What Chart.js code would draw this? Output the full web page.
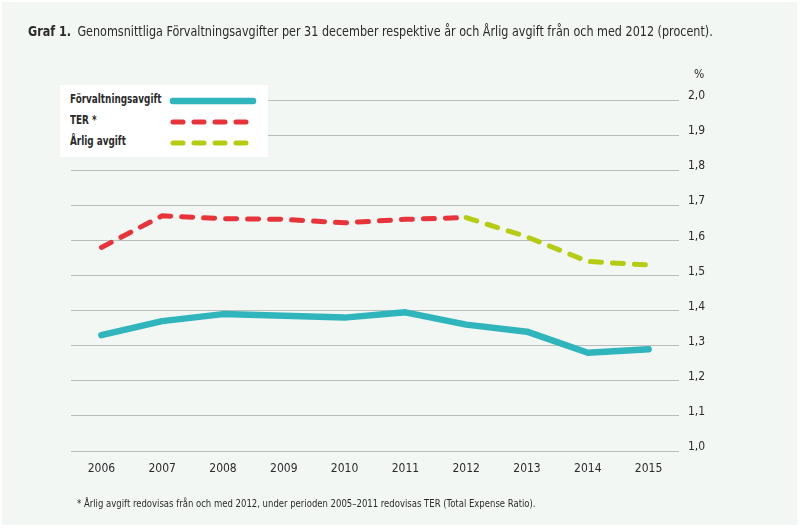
<!DOCTYPE html>
<html>
<head>
<meta charset="utf-8">
<script src="https://cdn.jsdelivr.net/npm/chart.js@4.4.1/dist/chart.umd.min.js"></script>
<style>
  html, body { margin: 0; padding: 0; background: #ffffff; }
  #wrap { position: relative; width: 800px; height: 529px; overflow: hidden; }
  #bg { position: absolute; left: 2px; top: 2px; width: 795px; height: 523px; background: #f3f7f4; }
  #chart { position: absolute; left: 0; top: 0; }
  .txt { position: absolute; font-family: "DejaVu Sans", sans-serif; font-stretch: condensed; color: #2b2b2b; white-space: nowrap; transform-origin: 0 50%; }
  #title { left: 28px; top: 23px; font-size: 13.5px; transform: scaleX(0.922); }
  #title b { margin-right: 3px; }
  #pct { left: 694px; top: 67px; font-size: 12px; }
  #foot { left: 77px; top: 497px; font-size: 10.5px; transform: scaleX(0.9); }
  #legend { position: absolute; left: 60px; top: 85px; width: 208px; height: 72px; background: #ffffff; }
  .row { position: absolute; left: 10px; height: 20px; width: 196px; }
  .row span { position: absolute; left: 0; top: 1px; font-family: "DejaVu Sans", sans-serif; font-stretch: condensed; font-weight: bold; font-size: 12px; color: #2b2b2b; white-space: nowrap; transform: scaleX(0.82); transform-origin: 0 50%; }
  .row svg { position: absolute; left: 99px; top: 5px; }
</style>
</head>
<body>
<div id="wrap">
  <div id="bg"></div>
  <canvas id="chart" width="800" height="529"></canvas>
  <div class="txt" id="title"><b>Graf 1.</b> Genomsnittliga Förvaltningsavgifter per 31 december respektive år och Årlig avgift från och med 2012 (procent).</div>
  <div class="txt" id="pct">%</div>
  <div class="txt" id="foot">* Årlig avgift redovisas från och med 2012, under perioden 2005–2011 redovisas TER (Total Expense Ratio).</div>
  <div id="legend">
    <div class="row" style="top:6px"><span>Förvaltningsavgift</span>
      <svg width="90" height="10"><line x1="4" y1="5" x2="84" y2="5" stroke="#2fb5bb" stroke-width="6.5" stroke-linecap="round"/></svg></div>
    <div class="row" style="top:27px"><span>TER *</span>
      <svg width="90" height="10"><line x1="4" y1="5" x2="84" y2="5" stroke="#e8333a" stroke-width="5" stroke-linecap="round" stroke-dasharray="10 11"/></svg></div>
    <div class="row" style="top:48px"><span>Årlig avgift</span>
      <svg width="90" height="10"><line x1="4" y1="5" x2="84" y2="5" stroke="#b5cc12" stroke-width="5" stroke-linecap="round" stroke-dasharray="10 11"/></svg></div>
  </div>
</div>
<script>
// data
var years = ["2006", "2007", "2008", "2009", "2010", "2011", "2012", "2013", "2014", "2015"];
var forvaltning = [1.33, 1.37, 1.39, 1.385, 1.38, 1.395, 1.36, 1.34, 1.28, 1.29];
var ter = [1.58, 1.67, 1.662, 1.66, 1.65, 1.66, 1.665, null, null, null];
var arligAvgift = [null, null, null, null, null, null, 1.665, 1.61, 1.54, 1.53];
var yTicks = [1.0, 1.1, 1.2, 1.3, 1.4, 1.5, 1.6, 1.7, 1.8, 1.9, 2.0];

var fontFam = '"DejaVu Sans", sans-serif';

new Chart(document.getElementById("chart"), {
    type: 'line',
    data: {
        labels: years,
        datasets: [
            {
                label: "Förvaltningsavgift",
                data: forvaltning,
                borderColor: "#2fb5bb",
                borderWidth: 6.5,
                borderCapStyle: 'round',
                borderJoinStyle: 'round',
                pointRadius: 0,
                fill: false
            },
            {
                label: "TER *",
                data: ter,
                borderColor: "#e8333a",
                borderWidth: 5,
                borderDash: [11, 11],
                borderCapStyle: 'round',
                pointRadius: 0,
                fill: false
            },
            {
                label: "Årlig avgift",
                data: arligAvgift,
                borderColor: "#b5cc12",
                borderWidth: 5,
                borderDash: [11, 11],
                borderCapStyle: 'round',
                pointRadius: 0,
                fill: false
            }
        ]
    },
    options: {
        responsive: false,
        animation: false,
        layout: { padding: { top: 100, left: 71, right: 0, bottom: 0 } },
        plugins: { legend: { display: false }, tooltip: { enabled: false } },
        scales: {
            x: {
                offset: true,
                grid: { display: false, drawTicks: false },
                border: { display: false },
                ticks: { color: "#2b2b2b", padding: 11, font: { family: fontFam, size: 12, weight: 'condensed' } },
                afterFit: function (scale) { scale.height = 78; }
            },
            y: {
                position: 'right',
                min: 1.0,
                max: 2.0,
                afterBuildTicks: function (scale) {
                    scale.ticks = yTicks.map(function (v) { return { value: v }; });
                },
                grid: { color: "#b9bcb9", lineWidth: 1, drawTicks: false },
                border: { display: false },
                ticks: {
                    color: "#2b2b2b",
                    padding: 9,
                    labelOffset: -4,
                    font: { family: fontFam, size: 12, weight: 'condensed' },
                    callback: function (v) { return v.toFixed(1).replace('.', ','); }
                },
                afterFit: function (scale) { scale.width = 121; }
            }
        }
    }
});
</script>
</body>
</html>
